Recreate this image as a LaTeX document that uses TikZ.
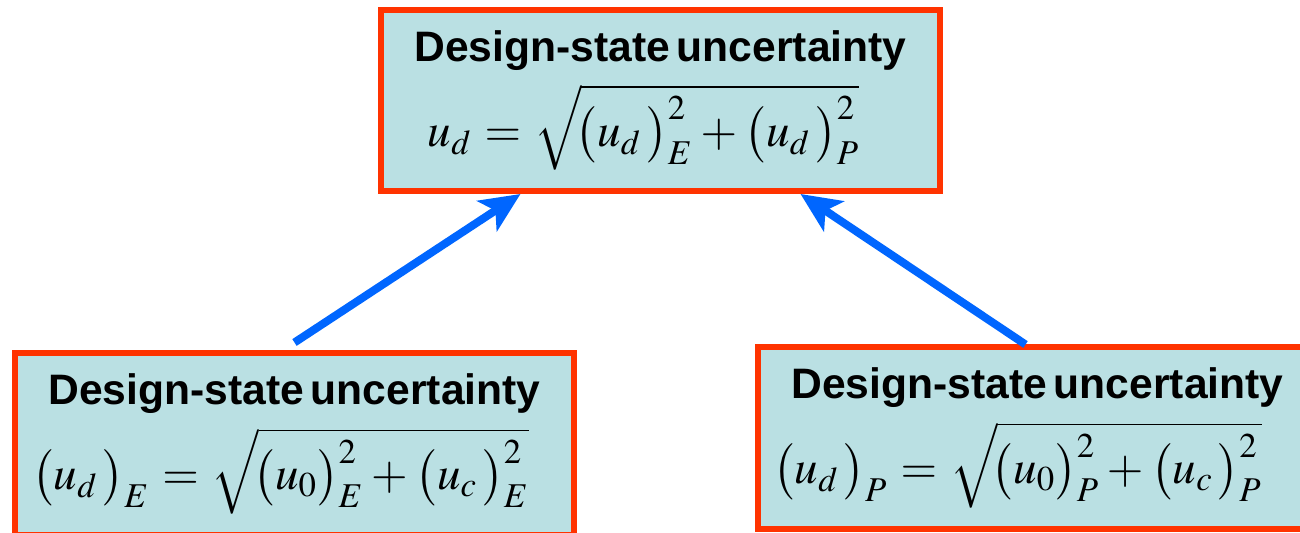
\documentclass[tikz,border=0pt]{standalone}
\usepackage{mathptmx}
\usepackage{fontspec}
\setmainfont{Liberation Serif}
\setsansfont{Liberation Sans}
\usetikzlibrary{arrows.meta}
\definecolor{boxfill}{RGB}{186,224,227}
\definecolor{boxline}{RGB}{255,51,0}
\definecolor{arrowblue}{RGB}{0,102,255}

\begin{document}
\begin{tikzpicture}[x=0.5pt,y=-0.5pt,
  ubox/.style={draw=boxline,fill=boxfill,line width=3pt,minimum width=279.5pt,minimum height=90.5pt,text width=275pt,align=center,inner sep=0pt},
  up/.style={-{Stealth[length=20pt,width=18pt,inset=5pt]},line width=4pt,arrowblue}]

\useasboundingbox (0,0) rectangle (1300,533);

\node[ubox] (top) at (660.5,100.5) {{\fontsize{21.3}{26}\selectfont\sffamily\bfseries Design-state uncertainty}\\[6pt]
  \mbox{\fontsize{23.5}{29}\selectfont\thickmuskip=5mu\medmuskip=3mu $u_{d} = \sqrt{\!\bigl(u_{d}\,\bigr)_E^2+\bigl(u_{d}\,\bigr)_P^2}$\hspace*{17pt}}};
\node[ubox] (bl) at (294.5,444) {{\fontsize{21.3}{26}\selectfont\sffamily\bfseries Design-state uncertainty}\\[6pt]
  \mbox{\fontsize{23.5}{29}\selectfont\thickmuskip=5mu\medmuskip=3mu $\bigl(u_{d}\,\bigr)_E = \sqrt{\!\bigl(u_0\bigr)_E^2+\bigl(u_{c}\,\bigr)_E^2}$\hspace*{14pt}}};
\node[ubox] (br) at (1037.5,438) {{\fontsize{21.3}{26}\selectfont\sffamily\bfseries Design-state uncertainty}\\[6pt]
  \mbox{\fontsize{23.5}{29}\selectfont\thickmuskip=5mu\medmuskip=3mu $\bigl(u_{d}\,\bigr)_P = \sqrt{\!\bigl(u_0\bigr)_P^2+\bigl(u_{c}\,\bigr)_P^2}$\hspace*{20pt}}};

\draw[up] ([yshift=4pt]bl.north) -- ([xshift=-70pt]top.south);
\draw[up] ([xshift=-6pt]br.north) -- ([xshift=70pt]top.south);

\end{tikzpicture}
\end{document}
